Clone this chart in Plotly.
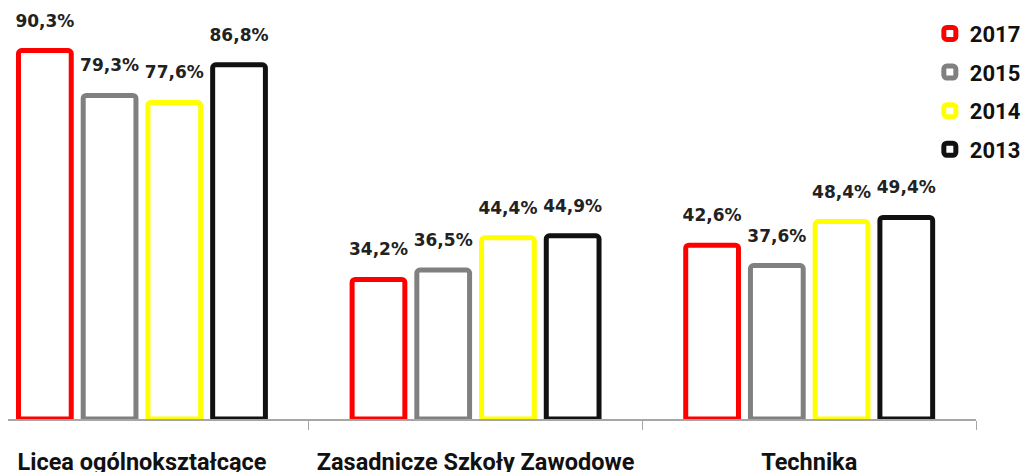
import plotly.graph_objects as go

categories = ["Licea ogólnokształcące", "Zasadnicze Szkoły Zawodowe", "Technika"]
series_names = ["2017", "2015", "2014", "2013"]
values = {
    "2017": [90.3, 34.2, 42.6],
    "2015": [79.3, 36.5, 37.6],
    "2014": [77.6, 44.4, 48.4],
    "2013": [86.8, 44.9, 49.4],
}
colors = {"2017": "#ff0000", "2015": "#808080", "2014": "#ffff00", "2013": "#111111"}

BARGAP = 0.224

fig = go.Figure()
for name in series_names:
    vals = values[name]
    fig.add_trace(go.Bar(
        x=categories, y=vals, name=name,
        legendgroup=name,
        marker=dict(color="white", line=dict(color=colors[name], width=5), cornerradius=3),
        textposition="none",
    ))
# value labels, grouped the same way as the bars
for name in series_names:
    vals = values[name]
    fig.add_trace(go.Scatter(
        x=categories, y=vals, mode="markers+text", showlegend=False,
        marker=dict(size=30, opacity=0),
        text=[f"{v:.1f}%".replace(".", ",") for v in vals],
        textposition="top center",
        textfont=dict(family="DejaVu Sans", size=17, color="#222222", weight="bold"),
        cliponaxis=False, hoverinfo="skip",
    ))

fig.update_layout(
    width=1022, height=464,
    margin=dict(l=0, r=54, t=3, b=53, autoexpand=False),
    plot_bgcolor="white", paper_bgcolor="white",
    barmode="group", bargap=BARGAP, bargroupgap=0.185,
    scattermode="group", scattergap=BARGAP,
    showlegend=True,
    legend=dict(xref="container", yref="container", x=0.902, y=0.99,
                xanchor="left", yanchor="top",
                font=dict(family="Roboto", size=22, color="#111111", weight="bold"),
                tracegroupgap=7, bgcolor="rgba(0,0,0,0)"),
    xaxis=dict(range=[-0.4015, 2.5], showline=True, linecolor="#a6a6a6", linewidth=1.5,
               ticks="outside", tickson="boundaries", ticklen=9, tickcolor="#a6a6a6",
               tickfont=dict(family="Liberation Sans Narrow, Arial Narrow, Roboto", size=23.5,
                             color="#111111", weight="bold"),
               ticklabelstandoff=21, showgrid=False),
    yaxis=dict(range=[0, 100], visible=False, showgrid=False),
)

fig.write_html("out.html")
